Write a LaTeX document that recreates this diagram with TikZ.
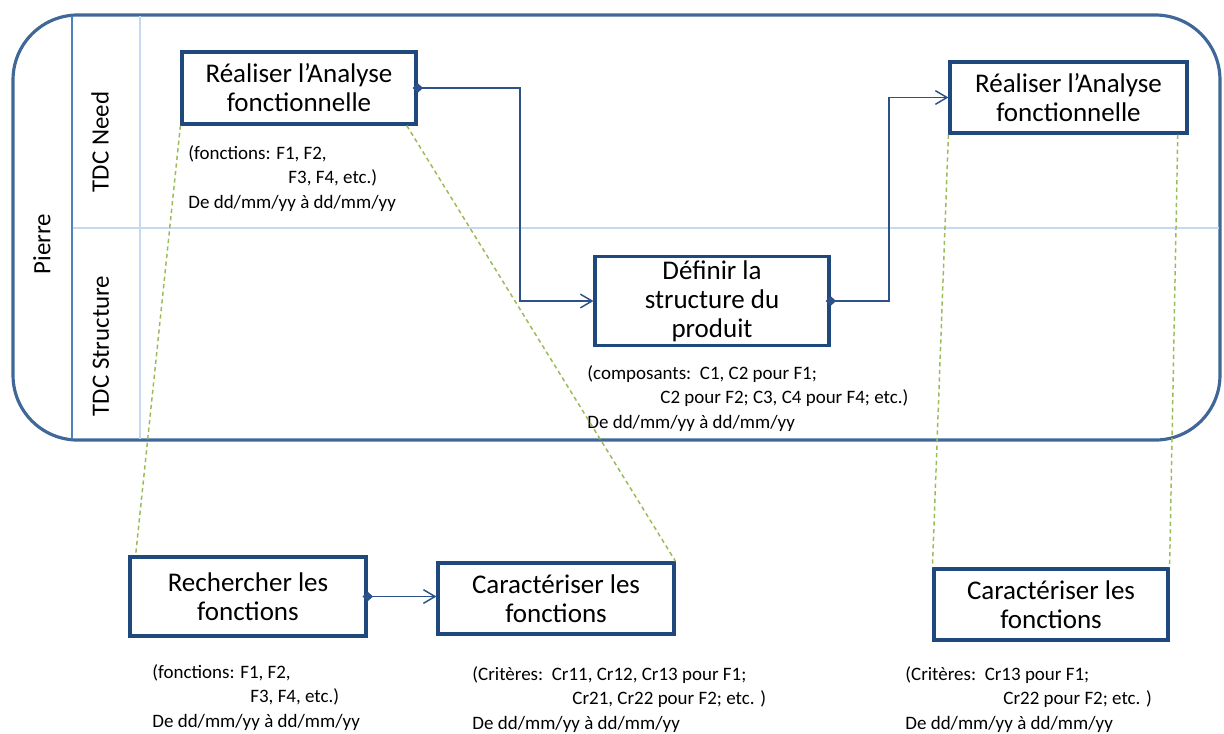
\documentclass[tikz,border=0pt]{standalone}
\usepackage{fontspec}
\setmainfont{Carlito}
\usetikzlibrary{arrows.meta,calc}
\definecolor{box-blue}{HTML}{1F497D}
\definecolor{pool-blue}{HTML}{3F6797}
\definecolor{lane-blue}{HTML}{4F81BD}
\definecolor{light-blue}{HTML}{C6D9F1}
\definecolor{flow-blue}{HTML}{2C5289}
\definecolor{trace-green}{HTML}{9BBB59}

\begin{document}
\begin{tikzpicture}[
        every node/.style={font=\fontsize{12.8}{13.7}\selectfont},
        taskbox/.style={draw=box-blue, line width=1.5pt, fill=white, align=center,
            minimum width=3.9cm, minimum height=1.2cm, inner sep=2pt},
        note/.style={font=\fontsize{9}{11.4}\selectfont, align=left,
            anchor=base west, inner sep=0pt},
        lanelabel/.style={rotate=90, font=\fontsize{11.8}{13}\selectfont},
        flow/.style={draw=flow-blue, line width=0.7pt, shorten <=-2.4pt,
            {Diamond[length=5pt,width=4.5pt]}-{Straight Barb[length=5.5pt,width=6.5pt]}},
        trace/.style={draw=trace-green, line width=0.7pt, dash pattern=on 2pt off 1.6pt}]
      \useasboundingbox (0,0) rectangle (20.4,12.217);
      \draw[pool-blue, line width=1.5pt, rounded corners=1.08cm]
            (0.217,4.883) rectangle (20.333,11.967);
      \draw[light-blue, line width=1.2pt] (2.333,4.9) -- (2.333,11.95);
      \draw[light-blue, line width=1.2pt] (1.2,8.417) -- (20.31,8.417);
      \draw[lane-blue, line width=1pt] (1.2,4.9) -- (1.2,11.95);
      \node[lanelabel] (PIERRE) at (0.7,8.15) {Pierre};
      \node[lanelabel] (NEED) at (1.667,9.85) {TDC Need};
      \node[lanelabel] (STRUCTLANE) at (1.683,6.45) {TDC Structure};
      \node[taskbox] (ANALYSE) at (4.983,10.75) {Réaliser l’Analyse\\fonctionnelle};
      \node[taskbox, minimum width=3.95cm, minimum height=1.183cm]
            (ANALYSE2) at (17.808,10.592) {Réaliser l’Analyse\\fonctionnelle};
      \node[taskbox, minimum height=1.433cm]
            (STRUCT) at (11.867,7.2) {Définir la\\structure du\\produit};
      \node[taskbox, minimum width=3.933cm, minimum height=1.317cm]
            (RECH) at (4.133,2.275) {Rechercher les\\fonctions};
      \node[taskbox, minimum width=3.933cm, minimum height=1.183cm]
            (CARAC) at (9.267,2.242) {Caractériser les\\fonctions};
      \node[taskbox, minimum height=1.183cm]
            (CARAC2) at (17.517,2.142) {Caractériser les\\fonctions};
      \node[note] (NOTEANA) at (3.133,8.75)
            {(fonctions: F1, F2,\\\hspace*{1.667cm}F3, F4, etc.)\\De dd/mm/yy à dd/mm/yy};
      \node[note] (NOTESTRUCT) at (9.783,5.083)
            {(composants:\ \ C1, C2 pour F1;\\\hspace*{1.217cm}C2 pour F2; C3, C4 pour F4; etc.)\\De dd/mm/yy à dd/mm/yy};
      \node[note] (NOTERECH) at (2.533,0.1)
            {(fonctions: F1, F2,\\\hspace*{1.633cm}F3, F4, etc.)\\De dd/mm/yy à dd/mm/yy};
      \node[note] (NOTECARAC) at (7.867,0.067)
            {(Critères:\ \ Cr11, Cr12, Cr13 pour F1;\\\hspace*{1.667cm}Cr21, Cr22 pour F2; etc. )\\De dd/mm/yy à dd/mm/yy};
      \node[note] (NOTECARAC2) at (15.083,0.067)
            {(Critères:\ \ Cr13 pour F1;\\\hspace*{1.633cm}Cr22 pour F2; etc. )\\De dd/mm/yy à dd/mm/yy};
      \draw[flow] (ANALYSE.east) -- (8.667,10.75) |- (STRUCT.west);
      \draw[flow] (STRUCT.east) -- (14.817,7.2) |- (ANALYSE2.west);
      \draw[flow] (RECH.east) -- (CARAC.west |- RECH.east);
      \draw[trace] (ANALYSE.south west) -- ($(RECH.north west)+(0.12,0)$);
      \draw[trace] ($(ANALYSE.south east)+(-0.18,0)$) -- (CARAC.north east);
      \draw[trace] (ANALYSE2.south west) -- (CARAC2.north west);
      \draw[trace] ($(ANALYSE2.south east)+(-0.18,0)$) -- (CARAC2.north east);
    \end{tikzpicture}
\end{document}
